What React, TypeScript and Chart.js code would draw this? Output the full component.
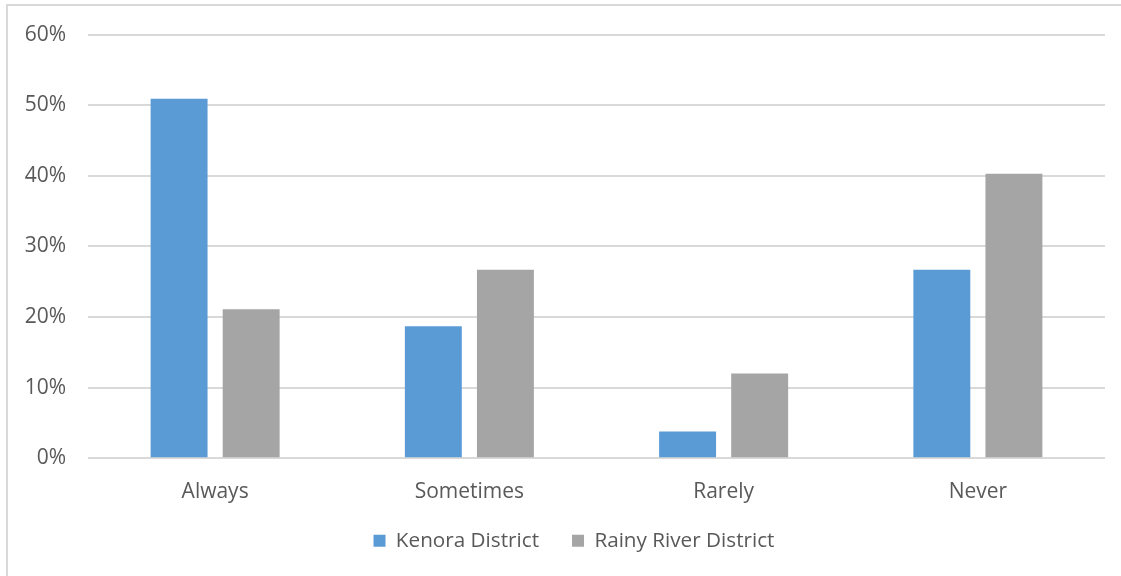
import React, { useEffect, useRef } from "react";
import { Chart, registerables } from "chart.js";

Chart.register(...registerables);

// Survey response categories and share of respondents (%) by district
const categories = ["Always", "Sometimes", "Rarely", "Never"];
const kenoraValues = [50.9, 18.7, 3.8, 26.7];
const rainyRiverValues = [21.1, 26.7, 12.0, 40.3];
const yTicks = [0, 10, 20, 30, 40, 50, 60];

const FONT = "'Open Sans', 'Noto Sans', sans-serif";
const TEXT = "#595959";
const GRID = "#d9d9d9";

// Moves the bottom legend up and right so it sits centred under the plot,
// leaving the x-axis box tall enough that its labels are not clipped
const legendShift = {
  id: "legendShift",
  afterLayout(chart: any) {
    const lg = chart.legend;
    if (lg) {
      lg.left += 18;
      lg.right += 18;
      lg.top -= 15;
      lg.bottom -= 15;
    }
  },
};

export default function App() {
  const canvasRef = useRef<HTMLCanvasElement | null>(null);

  useEffect(() => {
    const canvas = canvasRef.current;
    if (!canvas) return;
    const chart = new Chart(canvas, {
      type: "bar",
      data: {
        labels: categories,
        datasets: [
          {
            label: "Kenora District",
            data: kenoraValues,
            backgroundColor: "#5B9BD5",
            barPercentage: 0.79,
            categoryPercentage: 0.567,
          },
          {
            label: "Rainy River District",
            data: rainyRiverValues,
            backgroundColor: "#A5A5A5",
            barPercentage: 0.79,
            categoryPercentage: 0.567,
          },
        ],
      },
      plugins: [legendShift],
      options: {
        responsive: false,
        animation: false,
        layout: { padding: { left: 7, right: 16, top: 34, bottom: 0 } },
        plugins: {
          title: { display: false },
          tooltip: { enabled: false },
          legend: {
            position: "bottom",
            labels: {
              boxWidth: 12,
              boxHeight: 12,
              padding: 33,
              color: TEXT,
              font: { family: FONT, size: 20.7 },
            },
          },
        },
        scales: {
          x: {
            grid: { display: false, drawTicks: false },
            border: { display: false },
            ticks: {
              color: TEXT,
              padding: 21,
              font: { family: FONT, size: 21 },
            },
            afterFit(scale: any) {
              scale.height = 54;
            },
          },
          y: {
            min: 0,
            max: 60,
            afterBuildTicks(scale: any) {
              scale.ticks = yTicks.map((v) => ({ value: v }));
            },
            grid: { color: GRID, lineWidth: 2, drawTicks: false },
            border: { display: false },
            ticks: {
              color: TEXT,
              padding: 22,
              font: { family: FONT, size: 21 },
              callback: (v: any) => `${v}%`,
            },
            afterFit(scale: any) {
              scale.width = 81;
            },
          },
        },
      },
    });
    return () => chart.destroy();
  }, []);

  return (
    <div
      style={{
        position: "fixed",
        left: 0,
        top: 0,
        width: 1121,
        height: 576,
        background: "#ffffff",
      }}
    >
      <div
        style={{
          position: "absolute",
          left: 6,
          top: 4,
          right: 0,
          bottom: 0,
          borderLeft: `2px solid ${GRID}`,
          borderTop: `2px solid ${GRID}`,
        }}
      />
      <canvas
        ref={canvasRef}
        width={1121}
        height={576}
        style={{ position: "absolute", left: 0, top: 0 }}
      />
    </div>
  );
}
